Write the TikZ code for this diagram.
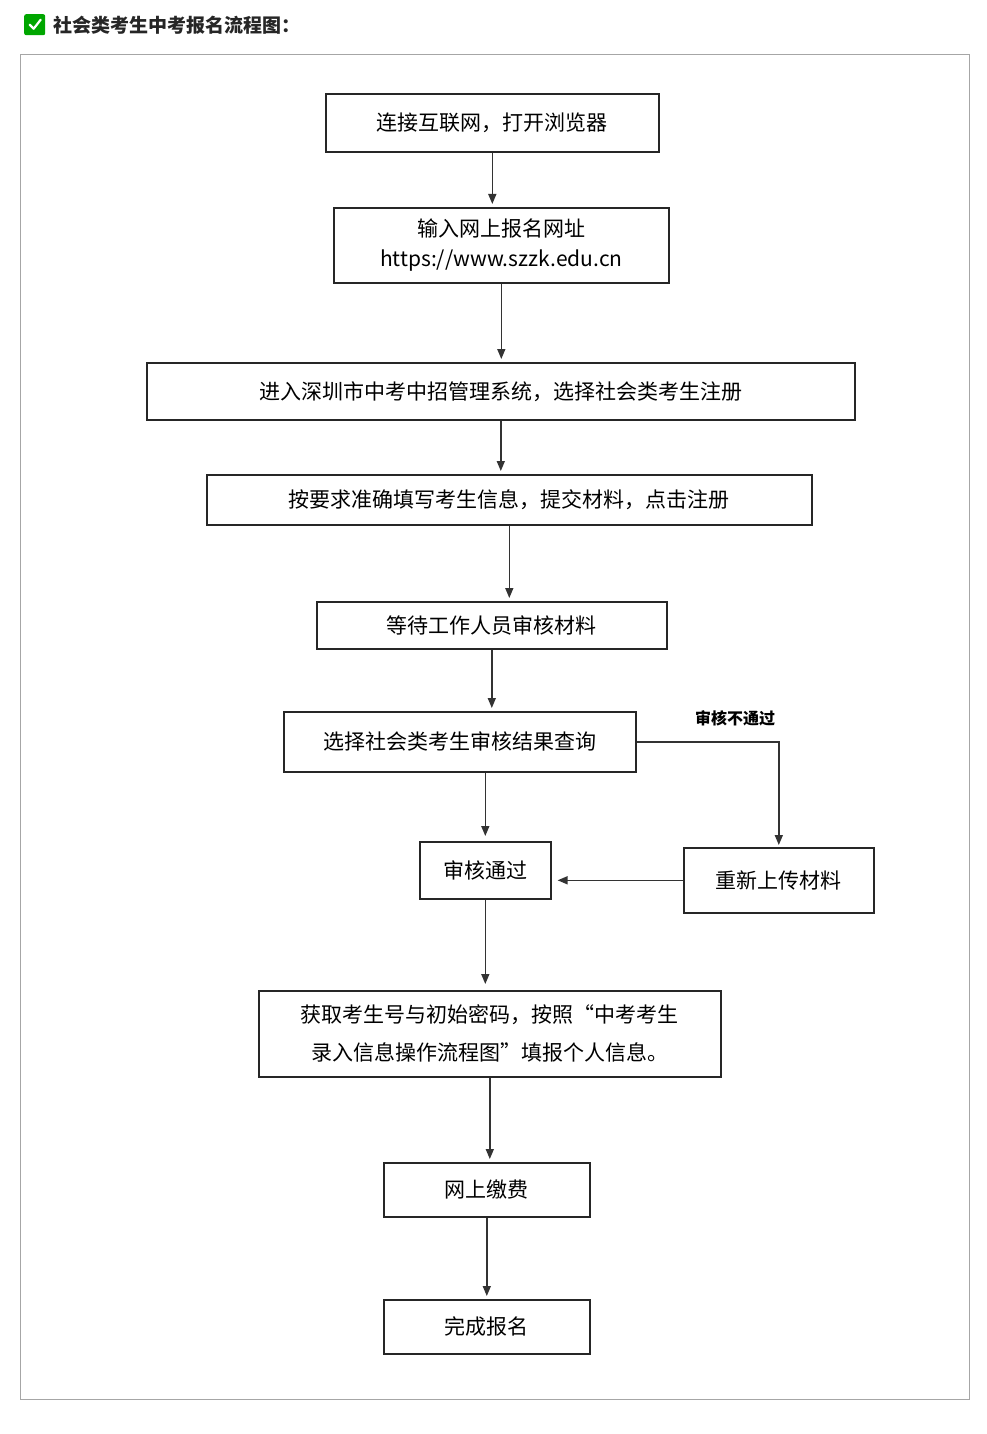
\documentclass[tikz,border=0pt]{standalone}
\usepackage{fontspec}
\setmainfont{Noto Sans CJK SC}
\usetikzlibrary{arrows.meta}
\begin{document}
\begin{tikzpicture}[x=1pt,y=-1pt,
  box/.style={draw=black!85,line width=1.6pt,anchor=north west,inner sep=0pt,align=center,font=\fontsize{21}{30}\selectfont},
  arr/.style={draw=black!80,line width=1.5pt,arrows={-Triangle[length=10pt,width=8pt]}}]
\useasboundingbox (0,0) rectangle (987,1434);
\fill[white] (0,0) rectangle (987,1434);
\node[draw=black!35,line width=0.8pt,anchor=north west,minimum width=949pt,minimum height=1345pt] (frame) at (20,54) {};
\node[fill=green!65!black,rounded corners=2pt,minimum size=21pt,inner sep=0pt,anchor=north west] (chk) at (24,14) {};
\draw[white,line width=2.2pt,line cap=round,line join=round] ([shift={(-5,0)}]chk.center) -- ([shift={(-1,4)}]chk.center) -- ([shift={(6,-5)}]chk.center);
\node[anchor=west,font=\fontsize{19}{22}\selectfont\bfseries,text=black!85] (title) at (50,25) {社会类考生中考报名流程图：};
\node[box,minimum width=333pt,minimum height=58pt] (b1) at (325,93) {连接互联网，打开浏览器};
\node[box,minimum width=335pt,minimum height=75pt] (b2) at (333,207) {输入网上报名网址\\https://www.szzk.edu.cn};
\node[box,minimum width=708pt,minimum height=57pt] (b3) at (146,362) {进入深圳市中考中招管理系统，选择社会类考生注册};
\node[box,minimum width=605pt,minimum height=50pt] (b4) at (206,474) {按要求准确填写考生信息，提交材料，点击注册};
\node[box,minimum width=350pt,minimum height=47pt] (b5) at (316,601) {等待工作人员审核材料};
\node[box,minimum width=352pt,minimum height=60pt] (b6) at (283,711) {选择社会类考生审核结果查询};
\node[box,minimum width=131pt,minimum height=57pt] (b7) at (419,841) {审核通过};
\node[box,minimum width=190pt,minimum height=65pt] (b8) at (683,847) {重新上传材料};
\node[box,minimum width=462pt,minimum height=86pt,font=\fontsize{21}{38}\selectfont] (b9) at (258,990) {获取考生号与初始密码，按照“中考考生\\录入信息操作流程图”填报个人信息。};
\node[box,minimum width=206pt,minimum height=54pt] (b10) at (383,1162) {网上缴费};
\node[box,minimum width=206pt,minimum height=54pt] (b11) at (383,1299) {完成报名};
\node[font=\fontsize{16}{18}\selectfont\bfseries] (lbl) at (735,718) {审核不通过};
\foreach \a/\b in {b1/b2,b2/b3,b3/b4,b4/b5,b5/b6,b9/b10,b10/b11}
  \draw[arr] (\a.south) -- ([yshift=3pt]\a.south |- \b.north);
\draw[arr] (b7.south) -- ([yshift=6pt]b7.south |- b9.north);
\draw[arr] (b6.south -| b7) -- ([yshift=5pt]b7.north);
\coordinate (k) at (b8.north |- b6.east);
\draw[arr] (b6.east) -- (k) -- ([yshift=2pt]b8.north);
\draw[arr] (b8.west) -- ([xshift=6pt]b8.west -| b7.east);
\end{tikzpicture}
\end{document}
